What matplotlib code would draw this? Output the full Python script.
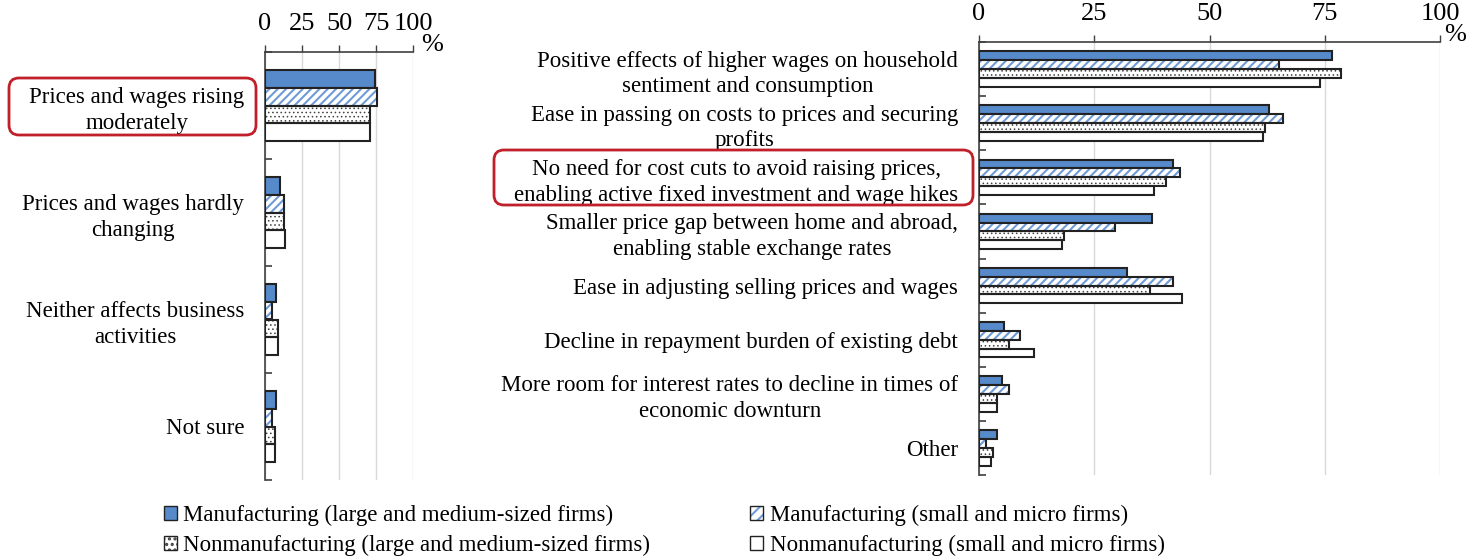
import matplotlib
matplotlib.use('Agg')
import matplotlib.pyplot as plt
import numpy as np
from matplotlib.patches import Patch, FancyBboxPatch

plt.rcParams['font.family'] = ['Liberation Serif', 'DejaVu Serif']
plt.rcParams['hatch.linewidth'] = 1.5

# ---------------- data ----------------
left_categories = ["Prices and wages rising\nmoderately",
                   "Prices and wages hardly\nchanging",
                   "Neither affects business\nactivities",
                   "Not sure"]
left_mfg_large = [74, 10, 7.5, 7.5]
left_mfg_small = [76, 13, 5, 5]
left_nonmfg_large = [71, 12.5, 9, 7]
left_nonmfg_small = [71, 13.5, 9, 6.5]

right_categories = ["Positive effects of higher wages on household\nsentiment and consumption",
                    "Ease in passing on costs to prices and securing\nprofits",
                    "No need for cost cuts to avoid raising prices,\nenabling active fixed investment and wage hikes",
                    "Smaller price gap between home and abroad,\nenabling stable exchange rates",
                    "Ease in adjusting selling prices and wages",
                    "Decline in repayment burden of existing debt",
                    "More room for interest rates to decline in times of\neconomic downturn",
                    "Other"]
right_mfg_large = [76.5, 63, 42, 37.5, 32, 5.5, 5, 4]
right_mfg_small = [65, 66, 43.5, 29.5, 42, 9, 6.5, 1.5]
right_nonmfg_large = [78.5, 62, 40.5, 18.5, 37, 6.5, 4, 3]
right_nonmfg_small = [74, 61.5, 38, 18, 44, 12, 4, 2.5]

series_labels = ["Manufacturing (large and medium-sized firms)",
                 "Manufacturing (small and micro firms)",
                 "Nonmanufacturing (large and medium-sized firms)",
                 "Nonmanufacturing (small and micro firms)"]
xticks = [0, 25, 50, 75, 100]

# ---------------- style ----------------
W, H = 1483, 558
BLUE = '#578ACB'
HBLUE = '#6F9BD6'
DOTC = '#404040'
EDGE = '#222222'
SPINE = '#404040'
RED = '#C0202A'
FS = 16.5
TICKFS = 19
HATCH_L = '////'
HATCH_D = '....'
LW = 1.5
DOT_LW = 0.6

fig = plt.figure(figsize=(W / 100, H / 100), dpi=100)


def px_axes(x0, y0, x1, y1):
    return fig.add_axes([x0 / W, 1 - y1 / H, (x1 - x0) / W, (y1 - y0) / H])


ax_l = px_axes(265, 52, 413, 480)
ax_r = px_axes(979, 42, 1440, 475)

h = 0.1636
offsets = np.array([-1.5, -0.5, 0.5, 1.5]) * h


def thin_hatch(patches):
    for p in patches:
        if hasattr(p, 'set_hatch_linewidth'):
            p.set_hatch_linewidth(DOT_LW)


def draw(ax, cats, s1, s2, s3, s4):
    n = len(cats)
    y = np.arange(n)
    # mfg large: solid blue
    ax.barh(y + offsets[0], s1, height=h, color=BLUE, edgecolor=EDGE, linewidth=LW, zorder=3)
    # mfg small: blue diagonal hatch
    ax.barh(y + offsets[1], s2, height=h, color='white', edgecolor=HBLUE, hatch=HATCH_L,
            linewidth=0, zorder=3)
    ax.barh(y + offsets[1], s2, height=h, color='none', edgecolor=EDGE, linewidth=LW, zorder=4)
    # nonmfg large: dots
    with plt.rc_context({'hatch.linewidth': DOT_LW}):
        bars = ax.barh(y + offsets[2], s3, height=h, color='white', edgecolor=DOTC,
                       hatch=HATCH_D, linewidth=0, zorder=3)
        thin_hatch(bars)
    ax.barh(y + offsets[2], s3, height=h, color='none', edgecolor=EDGE, linewidth=LW, zorder=4)
    # nonmfg small: white
    ax.barh(y + offsets[3], s4, height=h, color='white', edgecolor=EDGE, linewidth=LW, zorder=3)

    ax.set_xlim(0, 100)
    ax.set_ylim(n - 0.5, -0.5)
    ax.xaxis.tick_top()
    ax.set_xticks(xticks)
    ax.set_xticklabels([str(t) for t in xticks], fontsize=TICKFS)
    ax.tick_params(axis='x', direction='out', length=5, width=1, color=SPINE, pad=7)
    ax.set_yticks(np.arange(n + 1) - 0.5)
    ax.set_yticklabels([])
    ax.tick_params(axis='y', which='major', direction='in', length=5, width=1.2, color=SPINE)
    ax.set_yticks(y, minor=True)
    ax.set_yticklabels(cats, minor=True, fontsize=FS, multialignment='center', linespacing=1.3)
    ax.tick_params(axis='y', which='minor', length=0, pad=15)
    ax.grid(axis='x', color='#D9D9D9', linewidth=1)
    ax.set_axisbelow(True)
    for s in ['right', 'bottom']:
        ax.spines[s].set_visible(False)
    for s in ['left', 'top']:
        ax.spines[s].set_color(SPINE)
        ax.spines[s].set_linewidth(1.2)


draw(ax_l, left_categories, left_mfg_large, left_mfg_small, left_nonmfg_large, left_nonmfg_small)
draw(ax_r, right_categories, right_mfg_large, right_mfg_small, right_nonmfg_large, right_nonmfg_small)

fig.text(432 / W, 1 - 45 / H, '%', fontsize=TICKFS, ha='center', va='center')
fig.text(1455 / W, 1 - 35 / H, '%', fontsize=TICKFS, ha='center', va='center')

# red highlight boxes (in inches)
for (x0, y0, x1, y1) in [(9, 78, 256, 135), (494, 150, 973, 205)]:
    box = FancyBboxPatch((x0 / 100, (H - y1) / 100), (x1 - x0) / 100, (y1 - y0) / 100,
                         boxstyle='round,pad=0,rounding_size=0.1',
                         transform=fig.dpi_scale_trans, fill=False,
                         edgecolor=RED, linewidth=2, zorder=10)
    fig.add_artist(box)

# legend
h_ml = Patch(facecolor=BLUE, edgecolor=EDGE, linewidth=1)
h_ms = (Patch(facecolor='white', edgecolor=HBLUE, hatch='///', linewidth=0),
        Patch(facecolor='none', edgecolor=EDGE, linewidth=1))
with plt.rc_context({'hatch.linewidth': DOT_LW}):
    dot_handle = Patch(facecolor='white', edgecolor=DOTC, hatch='...', linewidth=0)
    thin_hatch([dot_handle])
h_nl = (dot_handle, Patch(facecolor='none', edgecolor=EDGE, linewidth=1))
h_ns = Patch(facecolor='white', edgecolor=EDGE, linewidth=1)
fig.legend([h_ml, h_nl, h_ms, h_ns],
           [series_labels[0], series_labels[2], series_labels[1], series_labels[3]],
           ncol=2, loc='upper left', bbox_to_anchor=(164 / W, 1 - 505 / H),
           frameon=False, fontsize=FS, handlelength=0.55, handleheight=0.55,
           handletextpad=0.3, columnspacing=4.35, labelspacing=0.38, borderpad=0,
           borderaxespad=0)

fig.savefig('out.png', dpi=100)
